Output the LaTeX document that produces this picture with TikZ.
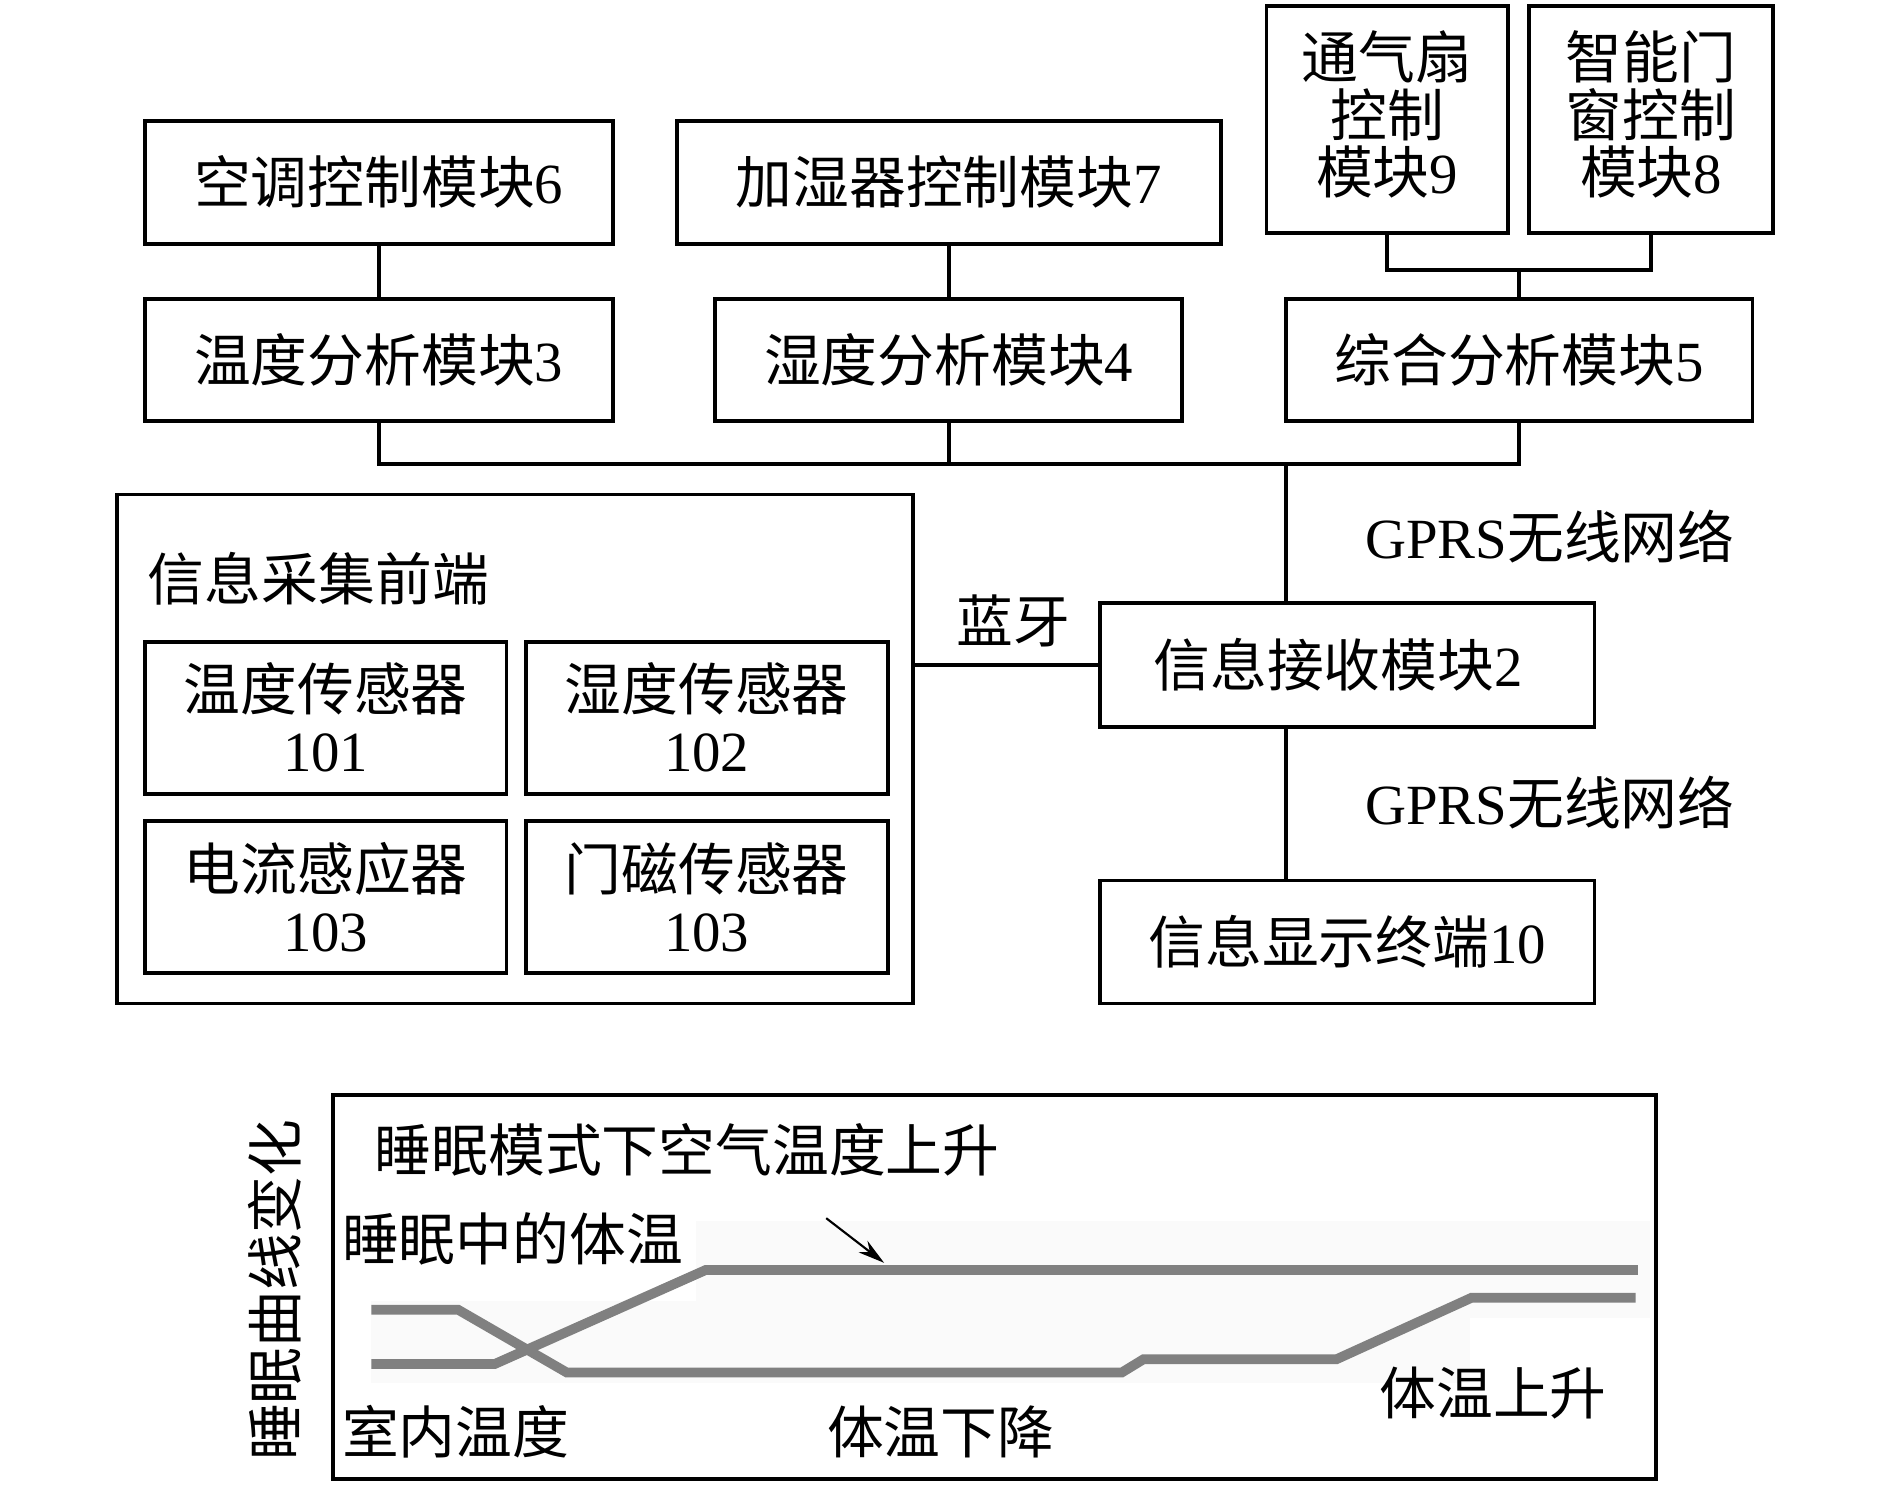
\documentclass[tikz,border=0pt]{standalone}
\usepackage{fontspec}
\setmainfont{Noto Sans CJK SC}
\newfontfamily\latinfont{Liberation Serif}
\usepackage{tikz}
\usetikzlibrary{arrows.meta}
\newcommand{\lat}[1]{{\latinfont #1}}

\begin{document}
\begin{tikzpicture}[x=1mm,y=-1mm]
% définition des paramètres
\tikzstyle boitemodule=[draw=black,line width=0.9pt,inner sep=0pt,align=center,font=\fontsize{13.4}{13.6}\selectfont]
\tikzstyle boitecapteur=[boitemodule,minimum width=30mm,minimum height=12.6mm,font=\fontsize{13.4}{14.4}\selectfont]
\tikzstyle texte=[inner sep=0pt,font=\fontsize{13.4}{13.6}\selectfont]
\tikzstyle liaison=[draw=black,line width=0.9pt]
\tikzstyle courbe=[color=black!50,line width=2.3pt]
\tikzstyle fond=[fill=black!2,draw=none]

\useasboundingbox (0,0) rectangle (156.7,123.4);

% les modules de commande
\node[boitemodule,minimum width=38.8mm,minimum height=10.2mm] (m6) at (31.4,15.1) {空调控制模块\lat{6}};
\node[boitemodule,minimum width=45.1mm,minimum height=10.2mm] (m7) at (78.65,15.1) {加湿器控制模块\lat{7}};
\node[boitemodule,minimum width=20.0mm,minimum height=18.8mm] (m9) at (115.0,9.9) {通气扇\\控制\\模块\lat{9}\\[-3.6mm]};
\node[boitemodule,minimum width=20.2mm,minimum height=18.8mm] (m8) at (136.9,9.9) {智能门\\窗控制\\模块\lat{8}\\[-3.6mm]};

% les modules d'analyse
\node[boitemodule,minimum width=38.8mm,minimum height=10.1mm] (m3) at (31.4,29.85) {温度分析模块\lat{3}};
\node[boitemodule,minimum width=38.7mm,minimum height=10.1mm] (m4) at (78.65,29.85) {湿度分析模块\lat{4}};
\node[boitemodule,minimum width=38.7mm,minimum height=10.1mm] (m5) at (125.95,29.85) {综合分析模块\lat{5}};

% réception et affichage
\node[boitemodule,minimum width=41.0mm,minimum height=10.3mm] (m2) at (111.7,55.15) {信息接收模块\lat{2}\hspace{1.5mm}};
\node[boitemodule,minimum width=41.0mm,minimum height=10.2mm] (m10) at (111.7,78.1) {信息显示终端\lat{10}};

% le frontal
\node[boitemodule,minimum width=66.0mm,minimum height=42.2mm] (front) at (42.7,62.1) {};
\node[texte,anchor=west] (titre) at (12.2,48.0) {信息采集前端};
\node[boitecapteur] (c101) at (27.0,59.5) {温度传感器\\\lat{101}};
\node[boitecapteur] (c102) at (58.6,59.5) {湿度传感器\\\lat{102}};
\node[boitecapteur] (c103) at (27.0,74.4) {电流感应器\\\lat{103}};
\node[boitecapteur] (c104) at (58.6,74.4) {门磁传感器\\\lat{103}};

% les liaisons
\coordinate (jonc) at (125.95,22.4);
\coordinate (bus) at (106.6,38.5);
\draw[liaison] (m6) -- (m3);
\draw[liaison] (m7) -- (m4);
\draw[liaison] (m9.south) |- (jonc) -| (m8.south);
\draw[liaison] (jonc) -- (m5.north);
\draw[liaison] (m3.south) |- (bus) -| (m5.south);
\draw[liaison] (m4.south) -- (m4.south |- bus);
\draw[liaison] (bus) -- (bus |- m2.north);
\draw[liaison] (bus |- m2.south) -- (bus |- m10.north);
\draw[liaison] (m2.west) -- (m2.west -| front.east);

\node[texte] (gprs1) at (128.5,44.5) {\lat{GPRS}无线网络};
\node[texte] (gprs2) at (128.5,66.5) {\lat{GPRS}无线网络};
\node[texte] (bleu) at (84.0,51.5) {蓝牙};

% la courbe du sommeil
\node[boitemodule,minimum width=109.7mm,minimum height=31.8mm] (cadre) at (82.45,106.7) {};
\fill[fond] (57.7,101.2) rectangle (136.8,109.3);
\fill[fond] (30.8,107.9) rectangle (121.9,114.7);
\draw[courbe] (30.8,113.1) -- (41.0,113.1) -- (58.5,105.3) -- (135.8,105.3);
\draw[courbe] (30.8,108.6) -- (38.0,108.6) -- (47.0,113.8) -- (93.0,113.8) -- (94.8,112.7) -- (110.8,112.7) -- (122.0,107.6) -- (135.6,107.6);

\node[texte,rotate=90] (axe) at (22.8,107.0) {睡眠曲线变化};
\node[texte,anchor=west] (air) at (31.0,95.3) {睡眠模式下空气温度上升};
\node[texte,anchor=west] (corps) at (28.3,102.7) {睡眠中的体温};
\node[texte,anchor=west] (piece) at (28.3,118.7) {室内温度};
\node[texte] (baisse) at (78.0,118.7) {体温下降};
\node[texte] (hausse) at (123.8,115.5) {体温上升};

\coordinate (dfleche) at (68.5,101.0);
\coordinate (ffleche) at (73.3,104.7);
\draw[-{Stealth[length=2.2mm,width=1.2mm]},line width=0.5pt] (dfleche) -- (ffleche);

\end{tikzpicture}
\end{document}
